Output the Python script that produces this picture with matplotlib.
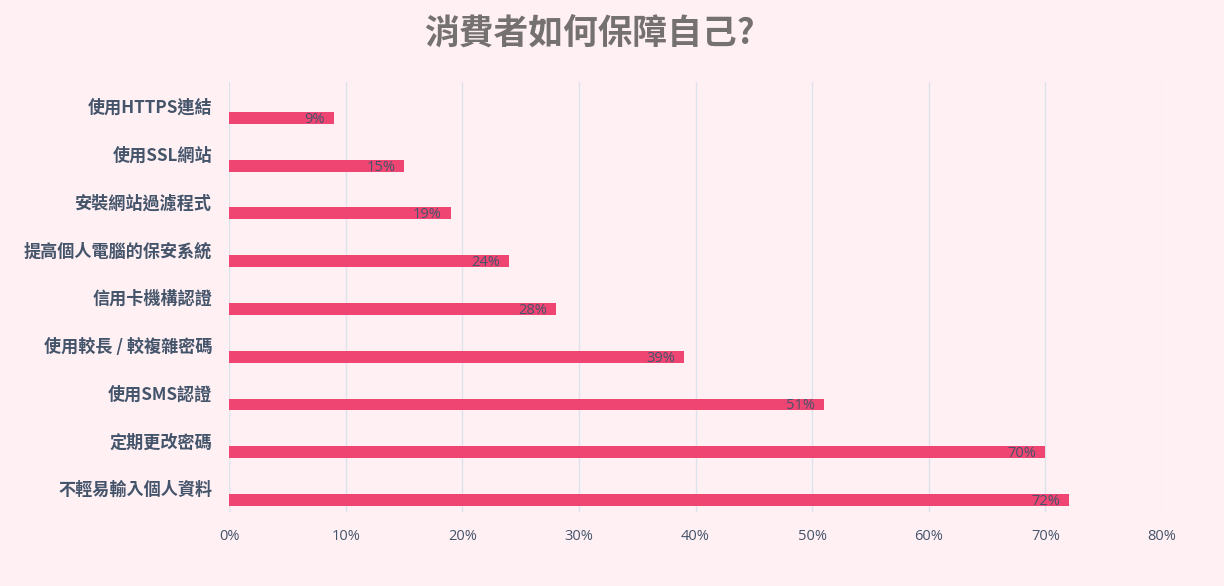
import matplotlib
matplotlib.use("Agg")
import matplotlib.pyplot as plt
import numpy as np

categories = ["使用HTTPS連結", "使用SSL網站", "安裝網站過濾程式", "提高個人電腦的保安系統",
              "信用卡機構認證", "使用較長 / 較複雜密碼", "使用SMS認證", "定期更改密碼", "不輕易輸入個人資料"]
values = [9, 15, 19, 24, 28, 39, 51, 70, 72]
xticks = [0, 10, 20, 30, 40, 50, 60, 70, 80]
title = "消費者如何保障自己?"

bg = "#FFF0F4"
bar_color = "#EF4573"
text_color = "#44546A"

cjk = ["Noto Sans CJK TC", "DejaVu Sans"]
plt.rcParams['font.family'] = cjk

fig = plt.figure(figsize=(12.24, 5.86), dpi=100, facecolor=bg)
ax = fig.add_axes([229/1224, 1-512/586, (1162-229)/1224, (512-82)/586])
ax.set_facecolor(bg)

y = np.arange(len(categories))
bars = ax.barh(y + 0.25, values, height=0.25, color=bar_color, zorder=3)
for yi, v in zip(y, values):
    ax.text(v - 0.75, yi + 0.28, f"{v}%", ha="right", va="center", fontsize=10.5,
            color=text_color, family=["Open Sans", "DejaVu Sans"], zorder=4)

ax.set_xlim(0, 80)
ax.set_ylim(len(categories) - 0.5, -0.5)
ax.set_xticks(xticks)
ax.set_xticklabels([f"{t}%" for t in xticks], fontsize=10.5, color=text_color,
                   family=["Open Sans", "DejaVu Sans"])
ax.set_yticks(y)
ax.set_yticklabels(categories, fontsize=12.3, color=text_color, fontweight="bold")
ax.tick_params(axis="both", length=0)
ax.tick_params(axis="x", pad=12)
ax.tick_params(axis="y", pad=12)
ax.grid(axis="x", color="#DDE3EA", linewidth=1, zorder=0)
for s in ax.spines.values():
    s.set_visible(False)

fig.text(589/1224, 1-33/586, title, ha="center", va="center", fontsize=25, fontweight="bold",
         color="#757171")

fig.savefig("out.png", dpi=100, facecolor=bg)
